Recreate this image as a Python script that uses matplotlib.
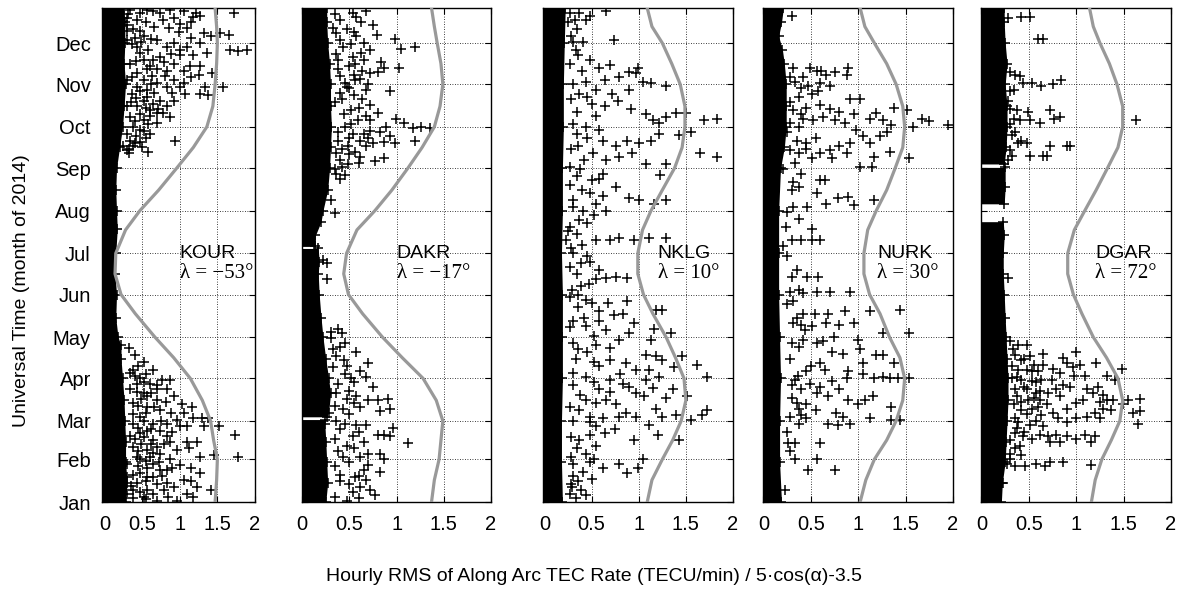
"""
plot.py - Hourly RMS of along-arc TEC rate per station, 2014
"""

import matplotlib
matplotlib.use("Agg")
import matplotlib.pyplot as plt
import numpy as np

plt.rcParams['font.family'] = ['Liberation Sans', 'DejaVu Sans']

# Month ticks as day of year 2014
month_days = [1, 32, 60, 91, 121, 152, 182, 213, 244, 274, 305, 335]
month_labels = ['Jan', 'Feb', 'Mar', 'Apr', 'May', 'Jun',
                'Jul', 'Aug', 'Sep', 'Oct', 'Nov', 'Dec']
x_ticks = [0, 0.5, 1, 1.5, 2]
x_tick_labels = ['0', '0.5', '1', '1.5', '2']

stations = ['KOUR', 'DAKR', 'NKLG', 'NURK', 'DGAR']
lambdas = ['\u03bb = \u221253\u00b0', '\u03bb = \u221217\u00b0', '\u03bb = 10\u00b0',
           '\u03bb = 30\u00b0', '\u03bb = 72\u00b0']

# 5*cos(alpha)-3.5 curve
curve_days = [1, 17, 32, 46, 60, 75, 91, 106, 121, 138, 152, 167, 182,
              199, 213, 228, 244, 259, 274, 289, 305, 320, 335, 347, 360.5]
kour_curve = [1.47, 1.49, 1.50, 1.45, 1.41, 1.30, 1.14, 0.92, 0.67, 0.41, 0.22, 0.14, 0.15,
              0.28, 0.47, 0.72, 0.96, 1.18, 1.36, 1.44, 1.47, 1.49, 1.50, 1.49, 1.47]
dakr_curve = [1.37, 1.40, 1.45, 1.47, 1.49, 1.42, 1.28, 1.06, 0.85, 0.64, 0.49, 0.44, 0.47,
              0.58, 0.77, 0.95, 1.12, 1.27, 1.40, 1.46, 1.49, 1.47, 1.43, 1.40, 1.37]
nklg_curve = [1.09, 1.14, 1.25, 1.36, 1.45, 1.50, 1.48, 1.39, 1.29, 1.15, 1.05, 0.99, 0.99,
              1.04, 1.13, 1.25, 1.38, 1.46, 1.49, 1.49, 1.44, 1.35, 1.25, 1.14, 1.09]
nurk_curve = [1.02, 1.08, 1.17, 1.30, 1.40, 1.47, 1.49, 1.44, 1.33, 1.23, 1.12, 1.06, 1.06,
              1.10, 1.19, 1.30, 1.39, 1.47, 1.49, 1.47, 1.40, 1.30, 1.17, 1.07, 1.02]
dgar_curve = [1.16, 1.20, 1.27, 1.37, 1.46, 1.49, 1.44, 1.32, 1.18, 1.06, 0.97, 0.91, 0.91,
              0.98, 1.09, 1.21, 1.33, 1.44, 1.49, 1.49, 1.43, 1.35, 1.25, 1.18, 1.14]

# dense core of the scatter: (days, right edge) per contiguous block
kour_core = [([1, 15, 30, 45, 60, 75, 91, 105, 115, 121, 135, 152, 167, 182, 200, 213,
               228, 244, 259, 274, 289, 305, 320, 335, 350, 360.5],
              [0.28, 0.30, 0.28, 0.28, 0.27, 0.26, 0.24, 0.22, 0.22, 0.18, 0.15, 0.16, 0.14,
               0.15, 0.17, 0.16, 0.15, 0.16, 0.20, 0.24, 0.26, 0.28, 0.26, 0.27, 0.27, 0.26])]
dakr_core = [([1, 15, 30, 45, 58, 61], [0.25, 0.27, 0.26, 0.25, 0.24, 0.24]),
             ([63, 66, 80, 91, 105, 121, 135, 152, 167, 176, 185.5],
              [0.26, 0.28, 0.30, 0.28, 0.25, 0.22, 0.20, 0.18, 0.17, 0.18, 0.17]),
             ([187, 195, 205, 213, 228, 244, 259, 274, 289, 305, 320, 335, 350, 360.5],
              [0.14, 0.14, 0.20, 0.22, 0.27, 0.29, 0.30, 0.31, 0.30, 0.30, 0.29, 0.27,
               0.26, 0.26])]
nklg_core = [([1, 30, 60, 91, 121, 152, 182, 213, 244, 274, 305, 335, 360.5],
              [0.19, 0.18, 0.18, 0.19, 0.19, 0.19, 0.18, 0.19, 0.19, 0.20, 0.20, 0.21, 0.22])]
nurk_core = [([1, 30, 60, 91, 121, 152, 182, 213, 244, 259, 274, 289, 305, 320, 330, 340,
               350, 360.5],
              [0.19, 0.17, 0.17, 0.18, 0.17, 0.16, 0.16, 0.16, 0.18, 0.22, 0.24, 0.24, 0.24,
               0.22, 0.20, 0.16, 0.19, 0.21])]
dgar_core = [([1, 15, 30, 45, 60, 75, 91, 105, 121, 135, 152, 167, 182, 195, 205],
              [0.21, 0.22, 0.25, 0.26, 0.27, 0.28, 0.28, 0.27, 0.26, 0.25, 0.24, 0.23, 0.23,
               0.24, 0.23]),
             ([218, 230, 244.5], [0.24, 0.25, 0.25]),
             ([247, 259, 274, 289, 305, 320, 335, 350, 360.5],
              [0.24, 0.26, 0.27, 0.27, 0.25, 0.27, 0.25, 0.24, 0.24])]

# individual hourly values outside the core: (day, value)
kour_pts = [
    (357, 1.72), (355, 1.27), (354, 1.18), (353, 0.92), (358, 0.65), (357, 0.47), (352, 0.78),
    (349, 1.01), (342, 1.32), (340, 1.41), (342, 1.54), (341, 1.65), (330, 1.67), (329, 1.78),
    (330, 1.90), (335, 1.27), (328, 1.36), (326, 1.18), (332, 1.10), (335, 0.92), (337, 0.70),
    (340, 0.52), (345, 0.38), (330, 0.58), (325, 0.74), (320, 0.92), (315, 1.05), (318, 1.14),
    (318, 1.27), (313, 1.43), (318, 0.61), (313, 0.43), (308, 0.52), (306, 0.70), (303, 0.83),
    (303, 1.01), (298, 1.07), (298, 1.27), (297, 1.38), (303, 1.34), (303, 1.58), (298, 0.36),
    (296, 0.56), (293, 0.74), (293, 0.92), (289, 0.43), (286, 0.61), (284, 0.78), (281, 0.87),
    (279, 0.52), (277, 0.70), (274, 0.38), (269, 0.61), (264, 0.34), (263, 0.47), (257, 0.30),
    (256, 0.58), (264, 0.94), (260, 0.38), (359, 0.34), (352, 0.43), (359, 0.56), (357, 0.74),
    (359, 0.87), (358, 1.05), (357, 1.21), (337, 0.30), (332, 0.43), (323, 0.52), (323, 0.65),
    (332, 0.83), (330, 1.01), (315, 0.83), (320, 0.34), (308, 0.30), (303, 0.43), (301, 0.56),
    (308, 0.92), (306, 1.05), (289, 0.30), (293, 0.52), (291, 0.65), (281, 0.34), (284, 0.70),
    (289, 0.83), (272, 0.47), (269, 0.30), (260, 0.25), (255, 0.32),
    (356, 0.31), (350, 0.55), (347, 0.66), (344, 0.47), (346, 0.86), (343, 0.99), (338, 0.62),
    (336, 0.48), (334, 0.36), (328, 0.47), (327, 0.88), (322, 0.42), (321, 0.79), (316, 0.56),
    (316, 0.70), (311, 0.63), (311, 0.80), (310, 0.36), (305, 0.62), (300, 0.47), (299, 0.66),
    (299, 0.90), (295, 0.42), (292, 0.35), (288, 0.55), (287, 0.71), (283, 0.47), (282, 0.60),
    (278, 0.40), (276, 0.58), (271, 0.52), (267, 0.42), (266, 0.55), (262, 0.40), (259, 0.50),
    (258, 0.33), (353, 0.30), (348, 0.30), (344, 0.30), (339, 0.40), (346, 1.10), (350, 1.15),
    (339, 1.15), (326, 1.00), (310, 1.15), (312, 1.25),
    (113, 0.32), (103, 0.52), (97, 0.38), (97, 0.65), (90, 0.76), (90, 0.87), (91, 0.47),
    (87, 0.61), (83, 0.34), (80, 0.52), (83, 0.70), (83, 0.83), (78, 0.92), (72, 1.03),
    (70, 1.16), (62, 1.30), (62, 1.18), (62, 1.38), (56, 1.52), (50, 1.74), (56, 1.32),
    (56, 1.01), (56, 1.10), (68, 0.74), (70, 0.56), (73, 0.38), (63, 0.47), (58, 0.65),
    (58, 0.83), (61, 0.96), (45, 1.10), (45, 1.23), (39, 0.96), (34, 1.27), (35, 1.45),
    (34, 1.78), (51, 0.47), (46, 0.65), (49, 0.83), (41, 0.38), (39, 0.56), (36, 0.74),
    (32, 0.87), (32, 0.47), (29, 0.65), (24, 0.83), (28, 1.01), (22, 1.27), (17, 1.05),
    (12, 0.92), (10, 0.79), (7, 0.65), (5, 0.52), (4, 0.38), (7, 1.10), (5, 1.18), (10, 1.41),
    (12, 1.23), (2, 0.96), (19, 0.30), (15, 0.43), (19, 0.56), (29, 0.30), (95, 0.34),
    (87, 0.43), (78, 0.56), (75, 0.70), (58, 0.38), (53, 0.56), (53, 0.74), (49, 0.34),
    (41, 0.70), (34, 0.43), (34, 0.61), (24, 0.74), (22, 0.47), (19, 0.65), (15, 0.83),
    (10, 0.56), (2, 0.70), (10, 0.38), (7, 0.30), (45, 0.87),
    (108, 0.40), (100, 0.45), (94, 0.55), (93, 0.40), (88, 0.52), (86, 0.70), (81, 0.43),
    (80, 0.62), (76, 0.48), (74, 0.82), (71, 0.45), (70, 0.66), (66, 0.55), (65, 0.38),
    (66, 0.88), (60, 0.52), (60, 0.75), (55, 0.45), (54, 0.62), (52, 0.90), (48, 0.52),
    (47, 0.40), (43, 0.48), (43, 0.62), (43, 0.79), (38, 0.45), (37, 0.65), (31, 0.55),
    (30, 0.72), (27, 0.45), (26, 0.56), (26, 0.90), (21, 0.38), (20, 0.77), (16, 0.55),
    (14, 0.70), (13, 0.35), (8, 0.47), (5, 0.85), (3, 0.55), (66, 1.05), (40, 1.12),
    (26, 1.15), (16, 1.15)]
dakr_pts = [
    (358, 0.68), (357, 0.54), (348, 0.75), (341, 0.79), (338, 0.98), (331, 1.05), (332, 1.19),
    (335, 0.65), (330, 0.72), (325, 0.54), (323, 0.66), (321, 0.84), (317, 0.87), (317, 1.03),
    (314, 0.80), (313, 0.72), (309, 0.61), (301, 0.68), (300, 0.93), (302, 0.50), (294, 0.63),
    (290, 0.72), (284, 0.80), (280, 0.99), (277, 1.08), (273, 1.17), (274, 1.26), (273, 1.35),
    (274, 0.89), (270, 0.82), (267, 0.93), (263, 0.87), (262, 0.98), (264, 1.19), (262, 0.75),
    (260, 0.68), (264, 0.61), (256, 0.56), (249, 0.77), (251, 0.87), (247, 0.49), (245, 0.42),
    (239, 0.45), (240, 0.36), (221, 0.31), (211, 0.35), (177, 0.22), (175, 0.26), (163, 0.26),
    (352, 0.40), (345, 0.47), (340, 0.57), (332, 0.43), (318, 0.50), (311, 0.40), (303, 0.47),
    (294, 0.42), (286, 0.52), (279, 0.59), (274, 0.45), (269, 0.54), (264, 0.38), (260, 0.49),
    (252, 0.61), (255, 0.36), (269, 0.65), (279, 0.72), (354, 0.57), (342, 0.36), (315, 0.63),
    (308, 0.56), (323, 0.38),
    (356, 0.35), (350, 0.62), (346, 0.33), (343, 0.55), (337, 0.40), (334, 0.52), (328, 0.62),
    (327, 0.36), (320, 0.56), (316, 0.38), (312, 0.55), (306, 0.45), (305, 0.70), (299, 0.40),
    (297, 0.55), (292, 0.35), (288, 0.60), (283, 0.44), (282, 0.68), (276, 0.52), (271, 0.72),
    (270, 0.38), (266, 0.50), (266, 0.70), (258, 0.42), (254, 0.50), (250, 0.40), (248, 0.60),
    (243, 0.35), (236, 0.40),
    (127, 0.38), (124, 0.42), (120, 0.31), (114, 0.40), (110, 0.57), (107, 0.36), (100, 0.47),
    (102, 0.70), (96, 0.61), (92, 0.68), (91, 0.52), (85, 0.75), (87, 0.38), (78, 0.57),
    (75, 0.70), (75, 0.80), (76, 0.91), (69, 0.93), (67, 0.82), (70, 0.61), (76, 0.47),
    (69, 0.43), (58, 0.45), (57, 0.57), (57, 0.68), (55, 0.96), (50, 0.80), (50, 0.87),
    (49, 0.93), (49, 0.54), (44, 1.12), (45, 0.65), (42, 0.47), (36, 0.70), (36, 0.82),
    (32, 0.87), (34, 0.61), (34, 0.43), (24, 0.66), (23, 0.82), (19, 0.56), (17, 0.68),
    (16, 0.40), (10, 0.72), (6, 0.77), (8, 0.54), (2, 0.47), (27, 0.35), (12, 0.61),
    (125, 0.30), (117, 0.45), (112, 0.33), (104, 0.44), (99, 0.33), (94, 0.45), (88, 0.55),
    (82, 0.50), (80, 0.36), (73, 0.55), (71, 0.35), (65, 0.50), (60, 0.36), (54, 0.40),
    (52, 0.60), (47, 0.35), (40, 0.55), (38, 0.38), (30, 0.50), (28, 0.70), (21, 0.40),
    (20, 0.60), (14, 0.50), (4, 0.60), (5, 0.35)]
nklg_pts = [
    (357, 0.27), (357, 0.37), (355, 0.48), (358, 0.65), (352, 0.32), (352, 0.44), (336, 0.30),
    (336, 0.41), (337, 0.74), (326, 0.36), (323, 0.48), (317, 0.58), (319, 0.69), (314, 0.90),
    (317, 0.99), (313, 0.97), (310, 0.79), (308, 0.64), (307, 0.44), (307, 1.04), (306, 1.13),
    (304, 1.29), (301, 0.90), (298, 0.72), (301, 0.55), (298, 0.37), (291, 0.50), (289, 0.64),
    (293, 0.78), (287, 0.92), (283, 1.08), (279, 1.15), (277, 1.22), (281, 1.29), (284, 1.39),
    (284, 1.50), (279, 1.69), (280, 1.83), (270, 1.55), (268, 1.43), (269, 1.22), (264, 1.13),
    (262, 1.00), (264, 0.87), (260, 0.76), (264, 0.62), (274, 0.44), (269, 0.34), (260, 0.36),
    (255, 0.51), (250, 0.65), (252, 0.79), (255, 0.93), (247, 1.08), (239, 1.23), (247, 1.29),
    (255, 1.65), (252, 1.83), (240, 0.62), (235, 0.50), (238, 0.34), (230, 0.76), (222, 0.90),
    (221, 1.00), (218, 1.16), (221, 1.29), (218, 0.55), (213, 0.41), (213, 0.65), (226, 0.48),
    (206, 0.37), (196, 0.34), (192, 0.55), (192, 0.69), (193, 0.79), (192, 0.95), (193, 1.11),
    (193, 1.29), (182, 0.30), (175, 0.39), (176, 0.48), (167, 0.34), (163, 0.55), (164, 0.65),
    (165, 0.76), (164, 0.87), (158, 0.39), (155, 0.29), (192, 0.23), (201, 0.27), (221, 0.30),
    (245, 0.27),
    (350, 0.25), (345, 0.35), (340, 0.28), (330, 0.33), (320, 0.27), (315, 0.40), (305, 0.30),
    (296, 0.45), (294, 0.28), (285, 0.35), (282, 0.55), (276, 0.30), (272, 0.58), (266, 0.45),
    (258, 0.28), (250, 0.42), (243, 0.38), (236, 0.58), (232, 0.27), (228, 0.40), (224, 0.62),
    (216, 0.30), (210, 0.52), (204, 0.45), (198, 0.25), (188, 0.40), (186, 0.28), (180, 0.45),
    (172, 0.27), (170, 0.58), (160, 0.47), (150, 0.27), (143, 0.36), (140, 0.58), (135, 0.42),
    (128, 0.27), (122, 0.52), (117, 0.30), (113, 0.70), (110, 0.45), (105, 0.33), (103, 0.52),
    (95, 0.30), (94, 0.80), (88, 0.52), (86, 0.30), (81, 0.70), (79, 0.38), (73, 0.55),
    (70, 0.27), (66, 0.86), (60, 0.30), (56, 0.55), (54, 0.75), (48, 0.28), (42, 0.55),
    (40, 0.35), (34, 0.28), (30, 0.48), (20, 0.30), (18, 0.50), (14, 0.28), (4, 0.33),
    (152, 0.36), (148, 0.44), (146, 0.50), (146, 0.67), (147, 0.88), (141, 1.25), (141, 1.18),
    (137, 0.74), (138, 0.83), (131, 0.95), (133, 0.58), (133, 0.30), (129, 0.44), (126, 0.65),
    (124, 0.90), (127, 1.16), (124, 1.34), (119, 1.13), (119, 0.79), (115, 0.55), (112, 0.36),
    (108, 1.08), (107, 1.18), (104, 1.25), (107, 1.46), (99, 1.37), (101, 1.62), (104, 0.69),
    (102, 0.86), (100, 0.58), (97, 0.97), (97, 1.11), (92, 1.22), (92, 1.72), (92, 0.44),
    (90, 0.69), (87, 0.83), (85, 0.90), (90, 1.08), (84, 1.15), (77, 1.29), (83, 1.36),
    (78, 1.51), (83, 0.58), (75, 0.44), (75, 0.65), (72, 0.76), (80, 0.97), (78, 1.06),
    (69, 1.18), (63, 1.25), (64, 1.39), (61, 1.55), (64, 1.67), (68, 1.72), (63, 0.79),
    (62, 0.62), (63, 0.48), (68, 0.37), (59, 0.48), (63, 0.97), (57, 1.11), (50, 1.20),
    (46, 1.43), (46, 0.95), (51, 0.64), (50, 0.48), (46, 0.37), (36, 0.44), (32, 0.53),
    (26, 0.62), (29, 0.79), (22, 0.88), (26, 0.99), (32, 1.04), (29, 0.30), (23, 0.41),
    (16, 0.36), (7, 0.27), (10, 0.39), (6, 0.44), (12, 0.29)]
nurk_pts = [
    (355, 0.30), (317, 0.31), (317, 0.49), (315, 0.56), (315, 0.61), (314, 0.75), (317, 0.89),
    (312, 0.88), (312, 0.66), (310, 0.42), (307, 0.33), (304, 0.47), (306, 0.60), (304, 0.70),
    (296, 0.37), (298, 0.51), (300, 0.58), (294, 0.91), (294, 1.02), (288, 1.38), (286, 1.51),
    (290, 0.60), (287, 0.70), (285, 0.80), (283, 0.96), (284, 1.19), (280, 1.12), (279, 1.26),
    (275, 1.35), (274, 1.58), (280, 1.67), (278, 1.75), (275, 1.95), (286, 0.31), (283, 0.40),
    (277, 0.28), (274, 0.38), (279, 0.52), (281, 0.63), (279, 0.75), (277, 0.86), (272, 0.98),
    (267, 1.05), (262, 1.12), (267, 1.23), (270, 1.30), (252, 1.17), (256, 1.33), (251, 1.54),
    (262, 0.91), (260, 0.80), (257, 0.70), (255, 0.88), (255, 0.60), (262, 0.45), (264, 0.35),
    (257, 0.28), (255, 0.38), (251, 0.51), (251, 0.72), (245, 1.02), (245, 1.14), (235, 0.60),
    (235, 0.65), (243, 0.21), (234, 0.31), (230, 0.38), (226, 0.56), (222, 0.79), (223, 0.89),
    (221, 1.17), (217, 0.96), (218, 0.66), (216, 0.46), (216, 0.31), (207, 0.37), (200, 0.51),
    (201, 0.24), (192, 0.30), (192, 0.40), (192, 0.51), (192, 0.60), (187, 0.21), (170, 0.35),
    (165, 0.30), (165, 0.46), (165, 0.58), (154, 0.28), (155, 0.38), (154, 0.56), (154, 0.70),
    (154, 0.91),
    (310, 0.28), (302, 0.40), (292, 0.28), (288, 0.45), (280, 0.42), (270, 0.25), (266, 0.55),
    (258, 0.45), (248, 0.33), (240, 0.40), (228, 0.30), (212, 0.25), (180, 0.25), (145, 0.25),
    (135, 0.35), (126, 0.44), (114, 0.38), (105, 0.28), (100, 0.50), (93, 0.36), (86, 0.30),
    (77, 0.30), (68, 0.55), (64, 0.40), (52, 0.25), (38, 0.28),
    (153, 0.42), (147, 0.31), (140, 1.12), (141, 1.44), (138, 0.42), (138, 0.54), (138, 0.68),
    (140, 0.86), (131, 0.31), (130, 0.40), (129, 0.51), (131, 0.66), (130, 0.80), (131, 0.96),
    (124, 1.26), (124, 1.54), (117, 0.30), (119, 0.42), (117, 0.56), (118, 0.63), (121, 0.74),
    (119, 1.00), (110, 0.72), (109, 0.84), (108, 1.19), (108, 1.26), (112, 1.02), (102, 1.38),
    (102, 1.05), (102, 0.60), (96, 0.45), (97, 0.65), (96, 0.89), (94, 1.05), (91, 1.17),
    (92, 1.26), (91, 1.33), (91, 1.42), (91, 1.54), (91, 0.88), (89, 0.72), (85, 0.60),
    (87, 0.49), (90, 0.33), (83, 0.40), (80, 0.56), (78, 0.68), (83, 0.80), (75, 0.89),
    (75, 1.07), (78, 1.16), (72, 1.00), (72, 0.45), (73, 0.35), (69, 0.38), (70, 1.35),
    (66, 0.77), (63, 0.84), (58, 0.91), (58, 0.68), (57, 0.79), (62, 1.12), (61, 1.35),
    (61, 1.44), (63, 0.28), (62, 0.45), (58, 0.37), (44, 0.26), (44, 0.33), (44, 0.60),
    (32, 0.33), (32, 0.56), (24, 0.47), (24, 0.75), (10, 0.23)]
dgar_pts = [
    (353, 0.28), (354, 0.42), (354, 0.51), (338, 0.60), (338, 0.65), (314, 0.30), (312, 0.35),
    (311, 0.41), (306, 0.44), (306, 0.53), (304, 0.63), (305, 0.76), (308, 0.84), (301, 0.34),
    (287, 0.30), (286, 0.37), (285, 0.49), (286, 0.72), (280, 0.77), (281, 0.83), (280, 0.34),
    (279, 0.41), (279, 0.51), (277, 0.62), (279, 1.63), (268, 0.32), (262, 0.39), (264, 0.42),
    (262, 0.48), (260, 0.72), (260, 0.90), (260, 0.93), (253, 0.32), (253, 0.51), (253, 0.65),
    (253, 0.69), (164, 0.28), (300, 0.30), (293, 0.28), (276, 0.30), (270, 0.35), (257, 0.30),
    (250, 0.28),
    (15, 0.23), (118, 0.30), (115, 0.39), (115, 0.48), (109, 0.65), (110, 1.00), (108, 0.35),
    (104, 0.42), (107, 0.51), (101, 0.55), (101, 0.65), (98, 0.76), (106, 0.86), (102, 0.90),
    (99, 0.97), (101, 1.04), (102, 1.21), (98, 1.48), (97, 0.39), (97, 0.48), (96, 0.60),
    (95, 0.83), (93, 0.98), (93, 1.09), (93, 1.32), (90, 1.41), (91, 0.32), (90, 0.42),
    (89, 0.53), (90, 0.63), (90, 0.74), (86, 0.86), (85, 0.93), (85, 1.23), (83, 1.11),
    (80, 1.18), (79, 1.28), (83, 0.35), (83, 0.48), (80, 0.58), (80, 0.70), (83, 0.79),
    (78, 0.37), (75, 0.49), (75, 0.62), (72, 0.69), (78, 0.83), (73, 1.00), (75, 1.07),
    (74, 1.25), (75, 1.32), (75, 1.39), (75, 1.55), (76, 1.67), (72, 1.49), (68, 1.37),
    (69, 1.28), (66, 1.20), (66, 1.60), (67, 1.67), (58, 1.65), (72, 0.34), (68, 0.42),
    (69, 0.53), (64, 0.63), (66, 0.76), (69, 0.90), (62, 0.81), (59, 0.90), (62, 1.00),
    (63, 1.11), (62, 1.25), (59, 0.39), (57, 0.51), (56, 0.65), (51, 0.35), (49, 0.44),
    (47, 0.53), (50, 0.62), (49, 0.70), (50, 0.79), (49, 0.90), (47, 1.00), (50, 1.09),
    (49, 1.20), (45, 1.16), (42, 0.41), (45, 0.72), (45, 0.83), (36, 0.30), (29, 0.27),
    (27, 0.35), (27, 0.46), (29, 0.58), (27, 0.67), (30, 0.72), (30, 0.86), (28, 1.16),
    (32, 0.30), (112, 0.33), (105, 0.45), (100, 0.32), (96, 0.53), (92, 0.38), (88, 0.58),
    (85, 0.45), (82, 0.62), (77, 0.55), (74, 0.42), (70, 0.60), (65, 0.48), (62, 0.35),
    (60, 0.58), (55, 0.38), (52, 0.45), (46, 0.30), (40, 0.35), (35, 0.42)]

panel_curves = [kour_curve, dakr_curve, nklg_curve, nurk_curve, dgar_curve]
panel_cores = [kour_core, dakr_core, nklg_core, nurk_core, dgar_core]
panel_pts = [kour_pts, dakr_pts, nklg_pts, nurk_pts, dgar_pts]

W, H = 1188, 591
fig = plt.figure(figsize=(W / 100, H / 100), dpi=100)

# panel frames in pixels (left, right); all share top 8 / bottom 502
frames = [(102, 255), (302, 491), (543, 733), (763, 953), (981, 1171)]
x_lims = [(-0.033, 2.0), (-0.002, 2.0), (-0.016, 2.0), (-0.005, 2.0), (-0.005, 2.0)]
label_x = [1.0, 1.0, 1.2, 1.2, 1.2]
top_px, bottom_px = 8, 502
mk = dict(color='k', ms=6.5, mew=1.1, ls='none', marker='+')

for i, (left, right) in enumerate(frames):
    ax = fig.add_axes([left / W, 1 - bottom_px / H, (right - left) / W,
                       (bottom_px - top_px) / H])

    for days, xs in panel_cores[i]:
        ax.fill_betweenx(days, -0.2, xs, color='k', lw=0, zorder=2)
        ax.plot(xs, days, zorder=2, **mk)

    pts = np.array(panel_pts[i])
    ax.plot(pts[:, 1], pts[:, 0], zorder=3, **mk)

    ax.plot(panel_curves[i], curve_days, color='#999999', lw=2.3, zorder=4)

    ax.text(label_x[i], 182, stations[i], fontsize=14, va='center', ha='left', zorder=5)
    ax.text(label_x[i], 167, lambdas[i], fontsize=15, va='center', ha='left', zorder=5,
            family=['Liberation Serif', 'DejaVu Serif'])

    ax.set_xlim(*x_lims[i])
    ax.set_ylim(1, 360.5)
    ax.set_xticks(x_ticks)
    ax.set_xticklabels(x_tick_labels)
    ax.set_yticks(month_days)
    if i == 0:
        ax.set_yticklabels(month_labels)
    else:
        ax.set_yticklabels([])
    ax.grid(True, linestyle=(0, (1, 2)), color='k', linewidth=0.6)
    ax.set_axisbelow(True)
    ax.tick_params(direction='in', top=True, right=True, length=4, width=0.8,
                   labelsize=14.5)
    ax.tick_params(axis='y', pad=8)
    ax.tick_params(axis='x', pad=9)
    for sp in ax.spines.values():
        sp.set_linewidth(1.0)

fig.text(0.5, 1 - 581 / H,
         'Hourly RMS of Along Arc TEC Rate (TECU/min) / 5\u00b7cos(\u03b1)-3.5',
         ha='center', va='baseline', fontsize=14)
fig.text(22 / W, 1 - 291 / H, 'Universal Time (month of 2014)', rotation=90,
         ha='center', va='center', fontsize=14)

fig.savefig('out.png', dpi=100)
